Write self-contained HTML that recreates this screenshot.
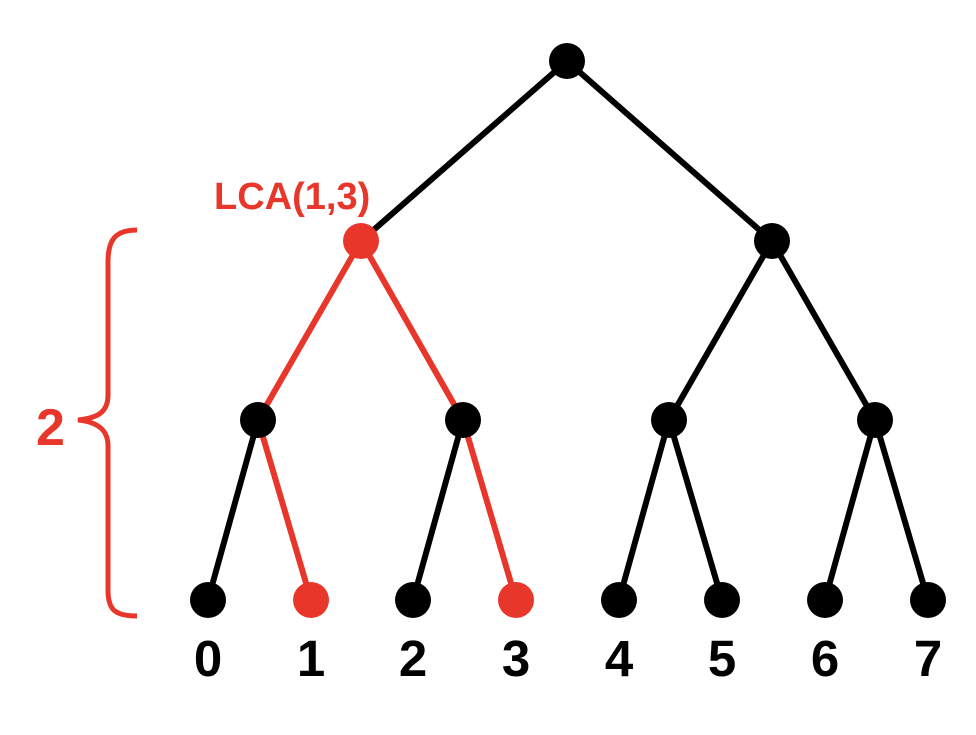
<!DOCTYPE html>
<html><head><style>body{margin:0;background:#fff}</style></head><body>
<svg width="976" height="730" viewBox="0 0 976 730" xmlns="http://www.w3.org/2000/svg" font-family="Liberation Sans, sans-serif" font-weight="bold">
<g stroke-width="6" stroke-linecap="round">
<line x1="567" y1="61" x2="361" y2="241" stroke="#000"/>
<line x1="567" y1="61" x2="772" y2="241" stroke="#000"/>
<line x1="361" y1="241" x2="258" y2="420" stroke="#e8362a"/>
<line x1="361" y1="241" x2="463" y2="420" stroke="#e8362a"/>
<line x1="772" y1="241" x2="669" y2="420" stroke="#000"/>
<line x1="772" y1="241" x2="875" y2="420" stroke="#000"/>
<line x1="258" y1="420" x2="208" y2="600" stroke="#000"/>
<line x1="258" y1="420" x2="311" y2="600" stroke="#e8362a"/>
<line x1="463" y1="420" x2="413" y2="600" stroke="#000"/>
<line x1="463" y1="420" x2="516" y2="600" stroke="#e8362a"/>
<line x1="669" y1="420" x2="619" y2="600" stroke="#000"/>
<line x1="669" y1="420" x2="722" y2="600" stroke="#000"/>
<line x1="875" y1="420" x2="825" y2="600" stroke="#000"/>
<line x1="875" y1="420" x2="928" y2="600" stroke="#000"/>
</g>
<g fill="#000">
<circle cx="567" cy="61" r="18"/>
<circle cx="772" cy="241" r="18"/>
<circle cx="258" cy="420" r="18"/><circle cx="463" cy="420" r="18"/>
<circle cx="669" cy="420" r="18"/><circle cx="875" cy="420" r="18"/>
<circle cx="208" cy="600" r="18"/><circle cx="413" cy="600" r="18"/>
<circle cx="619" cy="600" r="18"/><circle cx="722" cy="600" r="18"/>
<circle cx="825" cy="600" r="18"/><circle cx="928" cy="600" r="18"/>
</g>
<g fill="#e8362a">
<circle cx="361" cy="241" r="18"/>
<circle cx="311" cy="600" r="18"/><circle cx="516" cy="600" r="18"/>
</g>
<path d="M137,230 C115,230 108,240 108,262 L108,395 C108,412 98,418 78,420 C98,422 108,430 108,446 L108,590 C108,610 115,616 137,616" fill="none" stroke="#e8362a" stroke-width="5"/>
<text x="214" y="209" font-size="38" fill="#e8362a">LCA(1,3)</text>
<text x="36" y="445" font-size="52" fill="#e8362a">2</text>
<g font-size="51" text-anchor="middle" fill="#000">
<text x="208" y="676">0</text><text x="311" y="676">1</text><text x="413" y="676">2</text><text x="516" y="676">3</text>
<text x="619" y="676">4</text><text x="722" y="676">5</text><text x="825" y="676">6</text><text x="928" y="676">7</text>
</g>
</svg>
</body></html>
